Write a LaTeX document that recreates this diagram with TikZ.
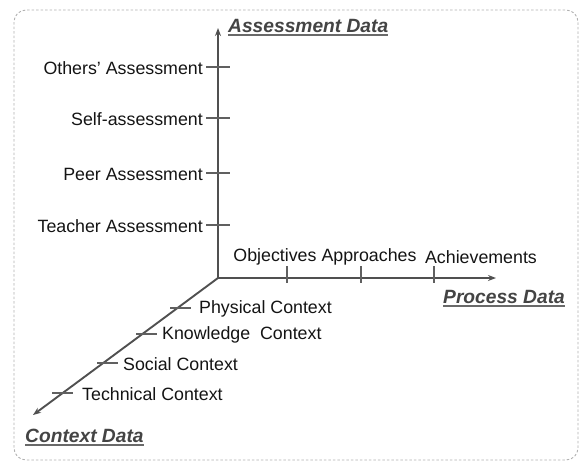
\documentclass[tikz,border=0pt]{standalone}
\usepackage{fontspec}
\setmainfont{Liberation Sans}
\usetikzlibrary{calc,arrows.meta}
\definecolor{axisgray}{HTML}{505050}
\definecolor{tickgray}{HTML}{606060}
\definecolor{txt}{HTML}{141414}
\definecolor{ttlgray}{HTML}{444444}
\definecolor{framegray}{HTML}{B0B0B0}
\begin{document}
\begin{tikzpicture}[x=1pt,y=-1pt,
  axis/.style={draw=axisgray, line width=1.9pt, -{Stealth[length=8pt,width=6pt]}},
  tickmark/.style={draw=tickgray, line width=1.2pt},
  lbl/.style={font=\fontsize{17.8}{21}\selectfont, text=txt, inner sep=0pt},
  ttl/.style={font=\fontsize{19.2}{23}\selectfont\bfseries\itshape, text=ttlgray, inner sep=0pt},
  uline/.style={draw=ttlgray!80, line width=1.4pt}]
  \useasboundingbox (0,0) rectangle (579,461);
  % outer frame
  \draw[framegray, line width=0.9pt, dash pattern=on 2.5pt off 2pt, rounded corners=12pt]
    (14,10) rectangle (578,460);

  % axes
  \coordinate (O) at (218,278);
  \coordinate (Ay) at (218,28);
  \coordinate (Ax) at (496,278);
  \coordinate (Ac) at (33,415);
  \draw[axis] (O) -- (Ay);
  \draw[axis] (O) -- (Ax);
  \draw[axis] (O) -- (Ac);

  % assessment axis ticks and labels
  \foreach \y/\t [count=\i] in {67/Others' Assessment,118/Self-assessment,173/Peer Assessment,225/Teacher Assessment}{
    \coordinate (ta\i) at (218,\y);
    \draw[tickmark] ($(ta\i)+(-12,0)$) -- ($(ta\i)+(12,0)$);
    \node[lbl, anchor=east] (la\i) at ($(ta\i)+(-15,1)$) {\t};
  }

  % process axis ticks and labels
  \foreach \x in {287,361,434}{
    \coordinate (tp\x) at (\x,278);
    \draw[tickmark] ($(tp\x)+(0,-12)$) -- ($(tp\x)+(0,5)$);
  }
  \node[lbl] (lp1) at (275,257) {Objectives};
  \node[lbl] (lp2) at (369,257) {Approaches};
  \node[lbl] (lp3) at (481,257) {Achievements};

  % context axis ticks and labels
  \foreach \x/\y/\lx/\t [count=\i] in {180/308/199/Physical Context,146/334/162/Knowledge\ \ Context,107/363/123/Social Context,62/393/82/Technical Context}{
    \coordinate (tc\i) at (\x,\y);
    \draw[tickmark] ($(tc\i)+(-10,0)$) -- ($(tc\i)+(11,0)$);
    \node[lbl, anchor=west] (lc\i) at (\lx,\y+1) {\t};
  }

  % axis titles
  \node[ttl, anchor=base west] (tA) at (228,32) {Assessment Data};
  \node[ttl, anchor=base west] (tP) at (443,303) {Process Data};
  \node[ttl, anchor=base west] (tC) at (25,442) {Context Data};
  \foreach \n in {tA,tP,tC}{
    \draw[uline] ($(\n.base west)+(0,3)$) -- ($(\n.base east)+(0,3)$);
  }
\end{tikzpicture}
\end{document}
